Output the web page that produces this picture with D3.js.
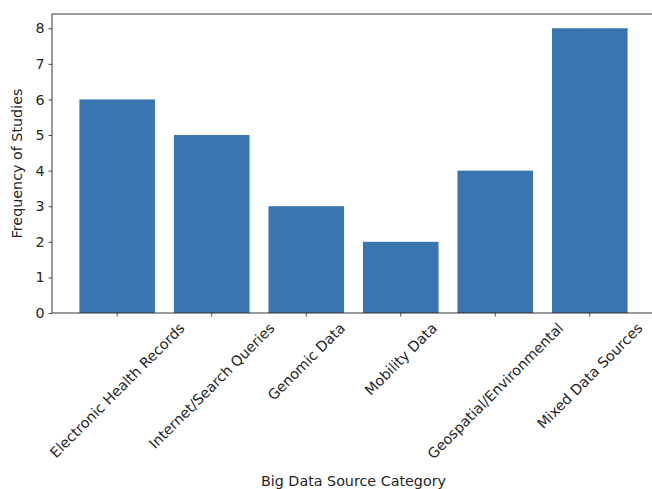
<!DOCTYPE html>
<html>
<head>
<meta charset="utf-8">
<script src="https://cdn.jsdelivr.net/npm/d3@7"></script>
<style>
  body { margin: 0; background: #fff; }
  text { font-family: "DejaVu Sans", sans-serif; fill: #262626; }
</style>
</head>
<body>
<div id="chart"></div>
<script>
const categories = ["Electronic Health Records", "Internet/Search Queries", "Genomic Data",
  "Mobility Data", "Geospatial/Environmental", "Mixed Data Sources"]
const frequencies = [6, 5, 3, 2, 4, 8]
const yTicks = [0, 1, 2, 3, 4, 5, 6, 7, 8]

const W = 652, H = 489
const MARGIN = { TOP: 14, BOTTOM: 176, LEFT: 52, RIGHT: -3 }
const FONT = 14.3

const svg = d3.select("#chart").append("svg")
    .attr("width", W)
    .attr("height", H)

const innerW = W - MARGIN.LEFT - MARGIN.RIGHT
const innerH = H - MARGIN.TOP - MARGIN.BOTTOM

const g = svg.append("g")
    .attr("transform", `translate(${MARGIN.LEFT}, ${MARGIN.TOP})`)

// matplotlib-like linear x: bars at 0..n-1, width 0.8, 5% margins
const n = categories.length
const xMin = -0.4 - 0.05 * (n - 0.2), xMax = n - 0.6 + 0.05 * (n - 0.2)
const x = d3.scaleLinear().domain([xMin, xMax]).range([0, innerW])
const y = d3.scaleLinear().domain([0, 8.4]).range([innerH, 0])

g.selectAll(".bar")
    .data(frequencies)
    .enter()
    .append("rect")
    .attr("class", "bar")
    .attr("x", (d, i) => x(i - 0.4))
    .attr("width", (d, i) => x(i + 0.4) - x(i - 0.4))
    .attr("y", d => y(d))
    .attr("height", d => y(0) - y(d))
    .attr("fill", "#3a75af")

// y axis
const yAxis = g.append("g")
    .call(d3.axisLeft(y).tickValues(yTicks).tickSize(3.5).tickPadding(4).tickFormat(d3.format("d")))
yAxis.select(".domain").remove()
yAxis.selectAll("text").style("font-size", FONT + "px").attr("fill", "#262626")
yAxis.selectAll("line").attr("stroke", "#222").attr("stroke-width", 0.8)

// x ticks
const xAxis = g.append("g")
    .attr("transform", `translate(0, ${innerH})`)
xAxis.selectAll("line")
    .data(categories)
    .enter()
    .append("line")
    .attr("x1", (d, i) => x(i)).attr("x2", (d, i) => x(i))
    .attr("y1", 0).attr("y2", 3.5)
    .attr("stroke", "#222").attr("stroke-width", 0.8)

// rotated labels, bbox centred on tick (ha=center, rotation=45)
xAxis.selectAll(".xl")
    .data(categories)
    .enter()
    .append("text")
    .attr("class", "xl")
    .style("font-size", FONT + "px")
    .attr("text-anchor", "middle")
    .attr("dominant-baseline", "central")
    .text(d => d)
    .each(function (d, i) {
        const w = this.getComputedTextLength()
        const h = FONT * 1.1
        const half = (w + h) * Math.SQRT1_2 / 2
        d3.select(this).attr("transform",
            `translate(${x(i)}, ${7 + half}) rotate(-45)`)
    })

// spines
g.append("rect")
    .attr("x", 0).attr("y", 0)
    .attr("width", innerW).attr("height", innerH)
    .attr("fill", "none")
    .attr("stroke", "#222")
    .attr("stroke-width", 0.9)

// axis titles
svg.append("text")
    .attr("x", MARGIN.LEFT + x((n - 1) / 2))
    .attr("y", 486)
    .attr("text-anchor", "middle")
    .style("font-size", FONT + "px")
    .text("Big Data Source Category")

svg.append("text")
    .attr("transform", `translate(22, ${MARGIN.TOP + innerH / 2}) rotate(-90)`)
    .attr("text-anchor", "middle")
    .style("font-size", FONT + "px")
    .text("Frequency of Studies")
</script>
</body>
</html>
